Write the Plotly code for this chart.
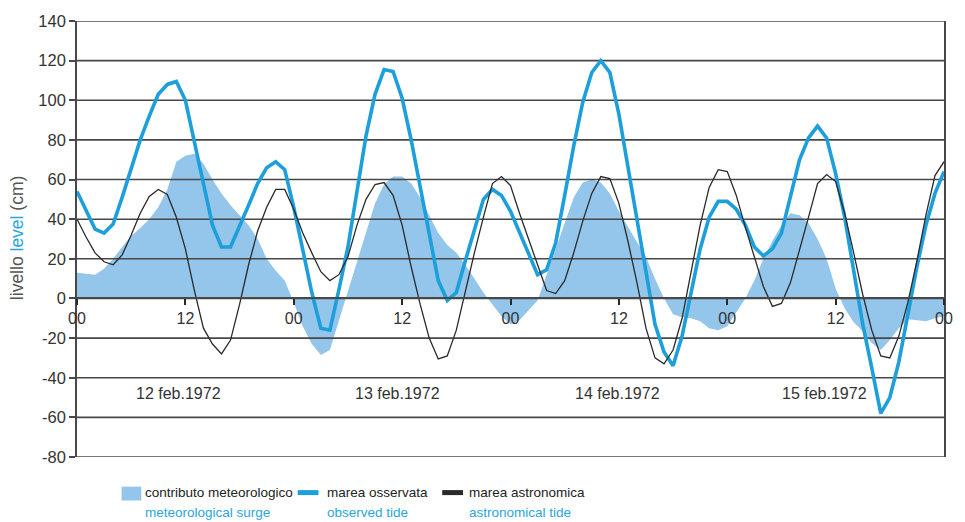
import plotly.graph_objects as go

# Hourly series, 12-15 February 1972 (hour 0 = 00:00 on 12 Feb)
hours = list(range(0, 97))

observed_tide = [
    54, 44, 35, 33, 37.5, 51, 66, 80, 92, 103,
    108, 109.5, 100, 80, 58, 37, 26, 26, 36, 47,
    58, 66, 69, 65, 46, 25, 3, -15, -16, 4.5,
    26, 54, 82, 103, 115.5, 114.5, 101, 80, 56, 31,
    9, -1, 3, 19, 34, 50, 55, 52, 44, 33,
    22, 12, 14.5, 28, 52, 77, 99, 114, 120, 114,
    93, 67, 41, 13, -13, -27, -34, -19, 3, 25,
    41, 49, 49, 45, 37, 26, 21.5, 25, 33, 51,
    70, 81, 87, 81, 63, 41, 15, -13, -35, -58,
    -50, -32, -8, 16, 37, 53, 64,
]

astronomical_tide = [
    40, 31, 23, 18.5, 17, 22, 32, 43, 51.5, 55,
    52.5, 41, 25, 4, -15, -23, -28, -21, -3, 17,
    34, 46, 55, 55, 45, 33, 23, 13.5, 9, 12,
    21, 37, 50, 57.5, 58.5, 52, 37, 16, -3, -20,
    -30.5, -29, -16, 4, 23, 41, 58, 61.5, 57, 43,
    30, 17, 4, 2.5, 9, 23, 39, 53, 61.5, 60.5,
    48, 29, 8, -15, -30, -33, -26, -10, 13, 37,
    56, 65, 64, 52, 36, 21, 6, -4, -2.5, 8,
    24, 41, 58, 62.5, 59, 43, 23, 2, -16, -29,
    -30, -19, -2, 19, 42, 62, 69,
]

meteorological_surge = [
    13, 12.5, 12, 15, 20, 26, 31.5, 35.5, 40, 46,
    55, 69, 72, 73, 68, 60, 53, 47, 42, 37,
    30, 20, 14, 9, -2, -14, -23, -28.5, -26, -11,
    4, 19, 34, 48, 57.5, 61.5, 61.5, 58, 51, 42,
    33, 27, 23, 17, 10, 3, -3, -9, -13, -11,
    -6, -1, 12, 25, 38, 51, 58.5, 60, 58.5, 53,
    44, 36, 28.5, 21, 10, 0, -8, -9.5, -10, -11.5,
    -15, -16, -14, -7, 0, 9, 20, 29, 37, 43,
    42, 38, 30, 20, 5, -5, -12, -16.5, -22.5, -26,
    -21, -15, -10.5, -11, -11.5, -10, -9,
]

x_tick_hours = [0, 12, 24, 36, 48, 60, 72, 84, 96]
x_tick_text = ["00", "12", "00", "12", "00", "12", "00", "12", "00"]
y_ticks = list(range(-80, 141, 20))
y_tick_text = [str(v) for v in y_ticks]
day_labels = ["12 feb.1972", "13 feb.1972", "14 feb.1972", "15 feb.1972"]

BLUE_LINE = "#1d9fdb"
BLUE_TEXT = "#29a6de"
SURGE_FILL = "#94c5ea"
DARK = "#2a2a2a"
GRID = "#484848"
FONT = "Liberation Sans, Arial, sans-serif"

W, H = 965, 522
L, R, T, B = 77, 12, 16, 65
PW, PH = W - L - R, H - T - B


def px(x):
    return (x - L) / PW


def py(y):
    return (H - B - y) / PH


fig = go.Figure()

# meteorological contribution as a filled area
fig.add_trace(go.Scatter(
    x=hours, y=meteorological_surge, mode="lines",
    line=dict(width=0, color=SURGE_FILL), fill="tozeroy",
    fillcolor=SURGE_FILL, hoverinfo="skip", showlegend=False,
))

# horizontal grid drawn above the filled area
gx, gy = [], []
for v in y_ticks:
    gx += [hours[0], hours[-1], None]
    gy += [v, v, None]
fig.add_trace(go.Scatter(
    x=gx, y=gy, mode="lines", line=dict(color=GRID, width=1.6),
    hoverinfo="skip", showlegend=False,
))

fig.add_trace(go.Scatter(
    x=hours, y=observed_tide, mode="lines",
    line=dict(color=BLUE_LINE, width=3.6), showlegend=False,
))
fig.add_trace(go.Scatter(
    x=hours, y=astronomical_tide, mode="lines",
    line=dict(color=DARK, width=1.3), showlegend=False,
))

# date labels under each day
day_centres = [11.2, 35.5, 59.8, 82.8]
for lab, xc in zip(day_labels, day_centres):
    fig.add_annotation(x=xc, y=-48, xref="x", yref="y", text=lab,
                       showarrow=False, font=dict(family=FONT, size=16, color="#333"))

# y-axis title
fig.add_annotation(
    x=px(16), y=py(235), xref="paper", yref="paper", textangle=-90,
    xanchor="center", yanchor="middle",
    text=f"livello <span style='color:{BLUE_TEXT}'>level</span> (cm)",
    showarrow=False, font=dict(family=FONT, size=17.5, color="#555"),
)

# legend
shapes = [
    dict(type="rect", xref="paper", yref="paper", x0=px(122), x1=px(142),
         y0=py(501), y1=py(487), fillcolor=SURGE_FILL, line=dict(width=0)),
    dict(type="line", xref="paper", yref="paper", x0=px(300), x1=px(321),
         y0=py(493), y1=py(493), line=dict(color=BLUE_LINE, width=5)),
    dict(type="line", xref="paper", yref="paper", x0=px(446), x1=px(467),
         y0=py(493), y1=py(493), line=dict(color=DARK, width=5)),
]
legend_items = [
    (144, "contributo meteorologico", "meteorological surge"),
    (328, "marea osservata", "observed tide"),
    (471, "marea astronomica", "astronomical tide"),
]
for xl, it, en in legend_items:
    fig.add_annotation(x=px(xl), y=py(493), xref="paper", yref="paper", text=it,
                       xanchor="left", yanchor="middle", showarrow=False,
                       font=dict(family=FONT, size=13.5, color="#222"))
    fig.add_annotation(x=px(xl), y=py(513), xref="paper", yref="paper", text=en,
                       xanchor="left", yanchor="middle", showarrow=False,
                       font=dict(family=FONT, size=13.5, color=BLUE_TEXT))

fig.update_layout(
    width=W, height=H, margin=dict(l=L, r=R, t=T, b=B),
    paper_bgcolor="white", plot_bgcolor="white", shapes=shapes,
    xaxis=dict(
        range=[0, 96], tickmode="array", tickvals=x_tick_hours, ticktext=x_tick_text,
        showgrid=False, zeroline=False, showline=True, linecolor=GRID, linewidth=1.6,
        ticks="outside", ticklen=6, tickwidth=2, tickcolor=DARK,
        anchor="free", position=80 / 220,
        tickfont=dict(family=FONT, size=16, color="#333"),
    ),
    yaxis=dict(
        range=[-80, 140], tickmode="array", tickvals=y_ticks, ticktext=y_tick_text,
        showgrid=False, zeroline=False, showline=True, mirror=True,
        linecolor=GRID, linewidth=1.6, ticks="outside", ticklen=6,
        tickwidth=1.6, tickcolor=GRID,
        tickfont=dict(family=FONT, size=16.5, color="#333"),
    ),
)

fig.write_html("out.html")
